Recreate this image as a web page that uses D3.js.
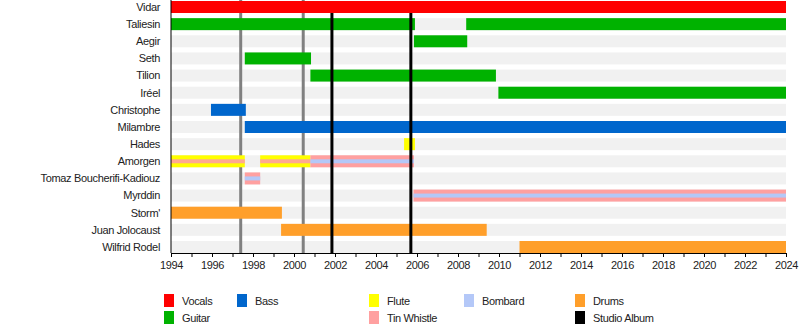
<!DOCTYPE html>
<html><head><meta charset="utf-8">
<script src="https://cdn.jsdelivr.net/npm/d3@7"></script>
<style>body{margin:0;background:#fff}svg{display:block;font-family:"Liberation Sans",Arial,sans-serif}text{letter-spacing:-0.35px}</style>
</head><body><svg id="c" width="800" height="332"></svg>
<script>
const members = ["Vidar","Taliesin","Aegir","Seth","Tilion","Iréel","Christophe","Milambre","Hades","Amorgen","Tomaz Boucherifi-Kadiouz","Myrddin","Storm'","Juan Jolocaust","Wilfrid Rodel"];
// [member, role, start, end]
const mainBars = [
  ["Vidar","Vocals",1994,2024],
  ["Taliesin","Guitar",1994,2005.9],
  ["Taliesin","Guitar",2008.4,2024],
  ["Aegir","Guitar",2005.85,2008.45],
  ["Seth","Guitar",1997.6,2000.83],
  ["Tilion","Guitar",2000.8,2009.85],
  ["Iréel","Guitar",2009.97,2024],
  ["Christophe","Bass",1995.95,1997.65],
  ["Milambre","Bass",1997.6,2024],
  ["Hades","Flute",2005.37,2005.9],
  ["Amorgen","Flute",1994,1997.6],
  ["Amorgen","Flute",1998.35,2000.8],
  ["Amorgen","Tin Whistle",2000.8,2005.85],
  ["Tomaz Boucherifi-Kadiouz","Tin Whistle",1997.6,1998.35],
  ["Myrddin","Tin Whistle",2005.83,2024],
  ["Storm'","Drums",1994,1999.41],
  ["Juan Jolocaust","Drums",1999.37,2009.4],
  ["Wilfrid Rodel","Drums",2011,2024]
];
const stripeBars = [
  ["Amorgen","Tin Whistle",1994,1997.6],
  ["Amorgen","Tin Whistle",1998.35,2000.8],
  ["Amorgen","Bombard",2000.8,2005.85],
  ["Tomaz Boucherifi-Kadiouz","Bombard",1997.6,1998.35],
  ["Myrddin","Bombard",2005.83,2024]
];
const otherReleases = [1997.4, 2000.45];
const studioAlbums = [2001.85, 2005.7];
const roles = ["Vocals","Guitar","Bass","Flute","Tin Whistle","Bombard","Drums","Studio Album"];
const roleColors = ["#ff0000","#00b200","#0066cc","#ffff00","#ffa0a0","#b4c8f8","#ff9f2a","#000000"];
const years = d3.range(1994, 2025);

const svg = d3.select("#c");
const color = d3.scaleOrdinal(roles, roleColors);
const x = d3.scaleLinear().domain([1994, 2024]).range([171, 786]);
const y = d3.scalePoint().domain(members).range([7, 247]);
const bh = 12, axisY = 253;

svg.append("g").selectAll("rect").data(members).join("rect")
  .attr("x", x(1994)).attr("width", x(2024) - x(1994))
  .attr("y", d => y(d) - bh/2).attr("height", bh).attr("fill", "#f1f1f1");

svg.append("g").selectAll("line").data(otherReleases).join("line")
  .attr("x1", d => x(d)).attr("x2", d => x(d)).attr("y1", 0).attr("y2", axisY)
  .attr("stroke", "#808080").attr("stroke-width", 3);

svg.append("g").selectAll("rect").data(mainBars).join("rect")
  .attr("x", d => x(d[2])).attr("width", d => x(d[3]) - x(d[2]))
  .attr("y", d => y(d[0]) - bh/2).attr("height", bh).attr("fill", d => color(d[1]));

svg.append("g").selectAll("rect").data(stripeBars).join("rect")
  .attr("x", d => x(d[2])).attr("width", d => x(d[3]) - x(d[2]))
  .attr("y", d => y(d[0]) - 2).attr("height", 4)
  .attr("fill", d => color(d[1])).attr("fill-opacity", d => d[1] === "Tin Whistle" ? 0.9 : 1);

svg.append("g").selectAll("line").data(studioAlbums).join("line")
  .attr("x1", d => x(d)).attr("x2", d => x(d)).attr("y1", 13).attr("y2", axisY)
  .attr("stroke", "#000").attr("stroke-width", 3);

svg.append("line").attr("x1", x(1994)).attr("x2", x(1994)).attr("y1", 0).attr("y2", axisY)
  .attr("stroke", "#000").attr("stroke-width", 1);

svg.append("g").selectAll("text").data(members).join("text")
  .attr("x", 160).attr("y", d => y(d)).attr("dy", "0.35em")
  .attr("text-anchor", "end").attr("font-size", 11).attr("fill", "#222").text(d => d);

const ax = svg.append("g").attr("transform", `translate(0,${axisY})`)
  .call(d3.axisBottom(x).tickValues(years).tickSize(4).tickSizeOuter(0)
    .tickFormat(d => d % 2 === 0 ? String(d) : ""));
ax.select(".domain").attr("stroke", "#000");
ax.selectAll(".tick line").attr("stroke", "#000");
ax.selectAll(".tick text").attr("font-size", 11).attr("fill", "#222")
  .attr("font-family", "Liberation Sans, Arial, sans-serif").attr("y", 8);

const legendPos = [[164,0],[164,1],[237,0],[369,0],[369,1],[464,0],[575,0],[575,1]];
const lg = svg.append("g").selectAll("g").data(roles).join("g")
  .attr("transform", (d, i) => `translate(${legendPos[i][0]},${294 + legendPos[i][1]*17})`);
lg.append("rect").attr("width", 10).attr("height", 13).attr("fill", d => color(d));
lg.append("text").attr("x", 18).attr("y", 7).attr("dy", "0.35em")
  .attr("font-size", 11).attr("fill", "#222").text(d => d);
</script></body></html>
